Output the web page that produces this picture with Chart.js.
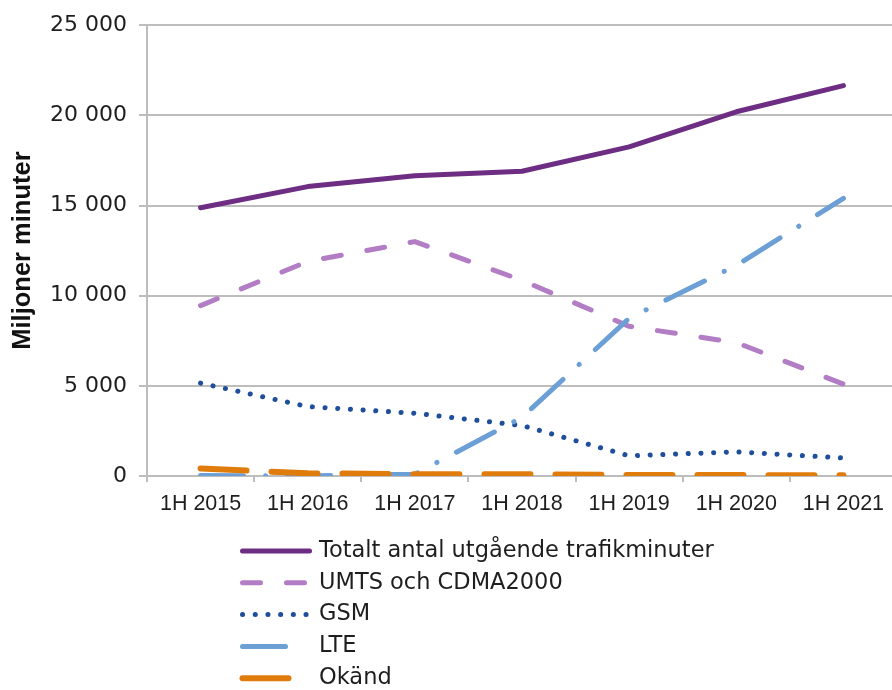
<!DOCTYPE html>
<html>
<head>
<meta charset="utf-8">
<script src="https://cdn.jsdelivr.net/npm/chart.js@4"></script>
<style>
  html, body { margin: 0; padding: 0; background: #ffffff; overflow: hidden; }
  #wrap { position: relative; width: 897px; height: 690px; }
</style>
</head>
<body>
<div id="wrap"><canvas id="c"></canvas></div>
<script>
const categories = ['1H 2015', '1H 2016', '1H 2017', '1H 2018', '1H 2019', '1H 2020', '1H 2021'];
const seriesNames = ['Totalt antal utgående trafikminuter', 'UMTS och CDMA2000', 'GSM', 'LTE', 'Okänd'];
const totalValues = [14880, 16050, 16650, 16900, 18250, 20200, 21650];
const umtsValues = [9450, 11900, 13000, 10850, 8300, 7400, 5100];
const gsmValues = [5150, 3850, 3480, 2800, 1120, 1340, 1000];
const lteValues = [30, 0, 100, 3250, 8750, 11680, 15400];
const okandValues = [420, 150, 100, 100, 60, 50, 40];
const yTicks = [0, 5000, 10000, 15000, 20000, 25000];
const yTitle = 'Miljoner minuter';

const colors = ['#6c2d83', '#b27dc5', '#1f4e9b', '#6b9fd6', '#e07c0c'];
const dashes = [[], [18, 26], [0.1, 12.6], [43, 22, 0.1, 22], [46, 25]];
const widths = [5, 5, 5, 5, 6];
const allValues = [totalValues, umtsValues, gsmValues, lteValues, okandValues];

function fmt(v) {
  return String(v).replace(/\B(?=(\d{3})+(?!\d))/g, ' ');
}

const datasets = allValues.map((vals, i) => ({
  label: seriesNames[i],
  data: vals,
  borderColor: colors[i],
  backgroundColor: colors[i],
  borderWidth: widths[i],
  borderDash: dashes[i],
  borderCapStyle: 'round',
  borderJoinStyle: 'round',
  pointRadius: 0,
  pointHoverRadius: 0,
  tension: 0,
  fill: false,
  order: allValues.length - i
}));

const legendPlugin = {
  id: 'stackedLegend',
  afterDraw(chart) {
    const ctx = chart.ctx;
    const ds = chart.data.datasets;
    ctx.save();
    ds.forEach((d, i) => {
      const y = 551 + i * 31.8;
      const x0 = 242.5;
      let x1 = 309.5;
      if (d.borderDash.length === 4) x1 = x0 + d.borderDash[0];
      ctx.beginPath();
      ctx.setLineDash(d.borderDash);
      ctx.lineCap = 'round';
      ctx.lineWidth = d.borderWidth;
      ctx.strokeStyle = d.borderColor;
      ctx.moveTo(x0, y);
      ctx.lineTo(x1, y);
      ctx.stroke();
      ctx.setLineDash([]);
      ctx.fillStyle = '#1e1e1e';
      ctx.font = '22.5px "DejaVu Sans"';
      ctx.textAlign = 'left';
      ctx.textBaseline = 'middle';
      ctx.fillText(d.label, 319, y);
    });
    ctx.restore();
  }
};

new Chart(document.getElementById('c'), {
  type: 'line',
  data: { labels: categories, datasets: datasets },
  options: {
    responsive: true,
    maintainAspectRatio: false,
    animation: false,
    layout: { padding: { top: 24, right: 0, bottom: 164, left: 0 } },
    plugins: {
      legend: { display: false },
      tooltip: { enabled: false }
    },
    scales: {
      x: {
        type: 'category',
        offset: true,
        grid: {
          offset: true,
          drawOnChartArea: false,
          drawTicks: true,
          tickLength: 6,
          color: '#bdbdbd',
          lineWidth: 2
        },
        border: { display: true, color: '#bdbdbd', width: 2 },
        ticks: {
          color: '#1e1e1e',
          font: { family: '"Liberation Sans"', size: 21.5 },
          padding: 9,
          maxRotation: 0,
          autoSkip: false
        },
        afterFit(scale) { scale.height = 50; }
      },
      y: {
        min: 0,
        max: 25000,
        afterBuildTicks(scale) { scale.ticks = yTicks.map(v => ({ value: v })); },
        grid: {
          color: '#bdbdbd',
          lineWidth: 2,
          tickLength: 8,
          drawTicks: true
        },
        border: { display: true, color: '#bdbdbd', width: 2 },
        ticks: {
          color: '#1e1e1e',
          font: { family: '"DejaVu Sans"', size: 22 },
          padding: 12,
          callback: (v) => fmt(v)
        },
        title: {
          display: true,
          text: yTitle,
          color: '#111111',
          font: { family: '"Liberation Sans"', size: 25.5, weight: 'bold' },
          padding: { top: 8, bottom: 0 }
        },
        afterFit(scale) { scale.width = 147; }
      }
    }
  },
  plugins: [legendPlugin]
});
</script>
</body>
</html>
